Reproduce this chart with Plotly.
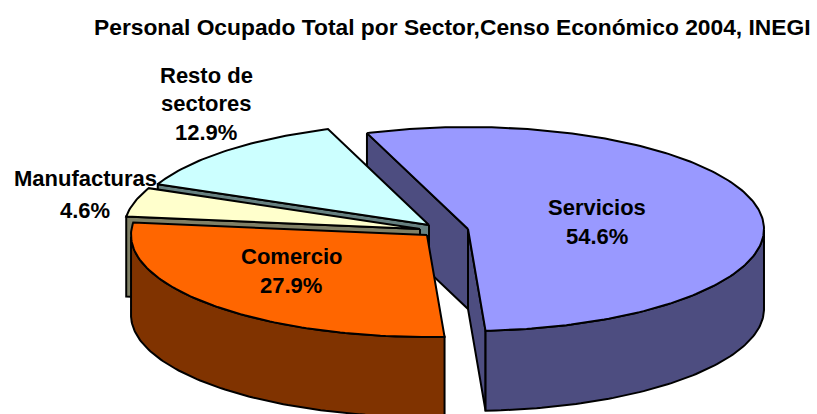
import numpy as np
import plotly.graph_objects as go

TITLE = "Personal Ocupado Total por Sector,Censo Económico 2004, INEGI"
categories = ["Servicios", "Resto de sectores", "Manufacturas", "Comercio"]
shares = [54.6, 12.9, 4.6, 27.9]
top_colors = ["#9999FF", "#CCFFFF", "#FFFFCC", "#FF6600"]
side_colors = ["#4D4D80", "#668080", "#808066", "#803300"]
# exploded apex of each slice, in axis units (x right, y down, page-like axes)
apex_x = [468, 429, 420, 427]
apex_y = [229, 225, 229, 235]
label_lines = [["Servicios", "54.6%"], ["Resto de", "sectores", "12.9%"],
               ["Manufacturas", "4.6%"], ["Comercio", "27.9%"]]
label_x = [597, 206, 85, 291]
label_y = [[207, 236], [75, 103, 132], [178, 210], [256, 285]]

RX, RY, DEPTH = 296, 102, 80
FIRST_END = 273.4   # clockwise-most boundary of the first slice, degrees


def rim(cx, cy, deg):
    r = np.radians(deg)
    return cx + RX * np.cos(r), cy - RY * np.sin(r)


fig = go.Figure()


def poly(xs, ys, color):
    fig.add_trace(go.Scatter(x=list(xs), y=list(ys), mode="lines", fill="toself",
                             fillcolor=color, line=dict(color="black", width=2),
                             hoverinfo="skip", showlegend=False))


angle = FIRST_END
for name, share, top, side, cx, cy in zip(categories, shares, top_colors, side_colors, apex_x, apex_y):
    lo = angle
    hi = angle + share * 3.6
    angle = hi
    # cut faces
    if np.cos(np.radians(hi)) < 0:
        x, y = rim(cx, cy, hi)
        poly([cx, x, x, cx, cx], [cy, y, y + DEPTH, cy + DEPTH, cy], side)
    if np.cos(np.radians(lo)) > 0:
        x, y = rim(cx, cy, lo)
        poly([cx, x, x, cx, cx], [cy, y, y + DEPTH, cy + DEPTH, cy], side)
    # outer wall: the part of the arc that faces the viewer
    ts = np.arange(lo, hi + 0.5, 1.0)
    ts = np.append(ts[ts < hi], hi)
    front = ts[np.sin(np.radians(ts)) <= 0]
    if len(front) > 1:
        wx, wy = rim(cx, cy, front)
        poly(np.r_[wx, wx[::-1], wx[0]], np.r_[wy, wy[::-1] + DEPTH, wy[0]], side)
    # top face
    tx, ty = rim(cx, cy, ts)
    poly(np.r_[cx, tx, cx], np.r_[cy, ty, cy], top)

annotations = [dict(x=92, y=27, xref="x", yref="y", text=TITLE, showarrow=False, xanchor="left",
                    font=dict(family="Liberation Sans", size=22.8, color="black", weight="bold"))]
for lines, lx, lys in zip(label_lines, label_x, label_y):
    for line, ly in zip(lines, lys):
        annotations.append(dict(x=lx, y=ly, xref="x", yref="y", text=line, showarrow=False,
                                font=dict(family="Liberation Sans", size=22, color="black", weight="bold")))

fig.update_layout(
    width=817, height=414, autosize=False, margin=dict(l=0, r=0, t=0, b=0),
    paper_bgcolor="white", plot_bgcolor="white", annotations=annotations,
    xaxis=dict(range=[0, 817], visible=False, fixedrange=True),
    yaxis=dict(range=[414, 0], visible=False, fixedrange=True),
)
fig.write_html("out.html", config={"displayModeBar": False},
               post_script="document.body.style.margin='0';document.body.style.overflow='hidden';")
